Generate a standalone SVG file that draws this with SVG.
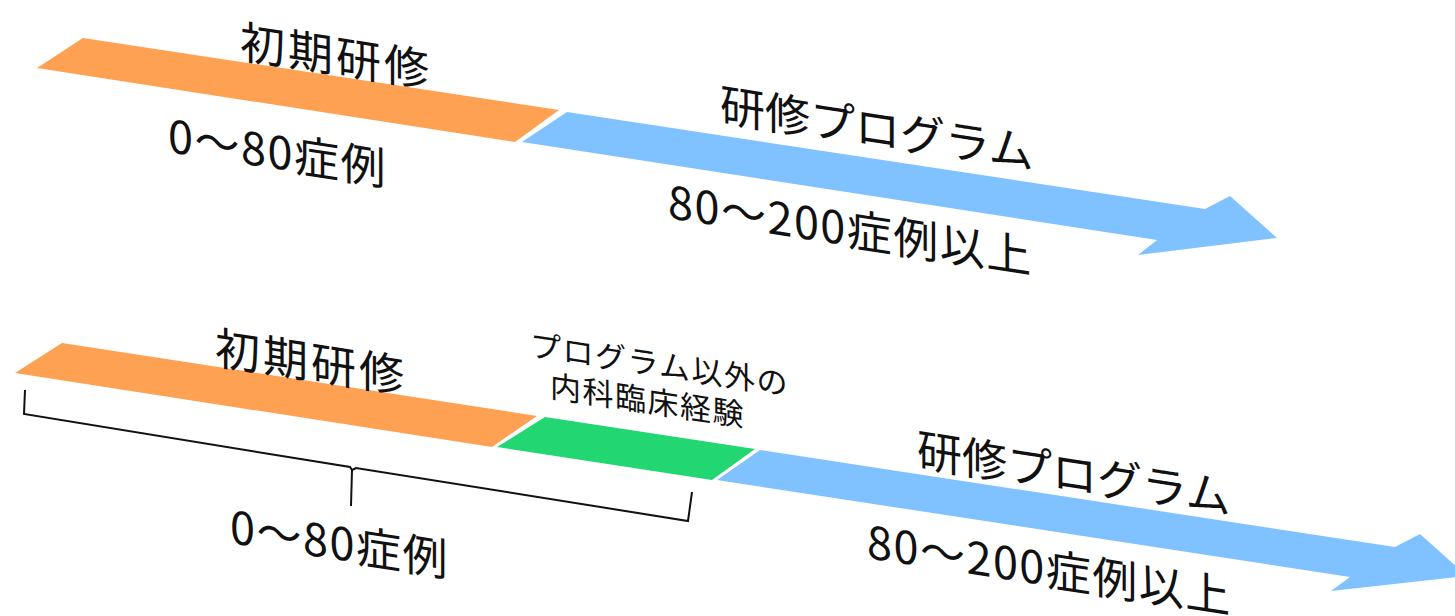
<svg xmlns="http://www.w3.org/2000/svg" width="1455" height="616" viewBox="0 0 1455 616">
<style>
.t{font-family:"Noto Sans CJK JP","Noto Sans",sans-serif;fill:#111;font-size:45px}
.w{letter-spacing:3px}
.n{letter-spacing:1.5px}
.s{font-size:31px;letter-spacing:1.5px}
.or{fill:#FFA152}
.bl{fill:#80C2FF}
.gr{fill:#22D672}
.br{fill:none;stroke:#111;stroke-width:2;stroke-linejoin:miter}
</style>
<rect width="1455" height="616" fill="#fff"/>
<g id="top-initial">
<polygon class="or" points="83,38 559,110 515,142 37,68"/>
<text class="t w" transform="translate(240,58) skewY(8.7)">初期研修</text>
<text class="t n" transform="translate(168,152) skewY(8.7)">0〜80症例</text>
</g>
<g id="top-program">
<polygon class="bl" points="567,112 1205,209 1230,196 1277,238 1138,255 1157,240 522,142"/>
<text class="t" transform="translate(720,121) skewY(8.7)">研修プログラム</text>
<text class="t n" transform="translate(668,218) skewY(8.7)">80〜200症例以上</text>
</g>
<g id="bottom-initial">
<polygon class="or" points="62,343 537,416 492,447 15,373"/>
<text class="t w" transform="translate(215,364) skewY(8.7)">初期研修</text>
</g>
<g id="bottom-other">
<polygon class="gr" points="545,417 755,449 712,480 497,447"/>
<text class="t s" transform="translate(530,356) skewY(8.7)">プログラム以外の</text>
<text class="t s" transform="translate(550,397) skewY(8.7)">内科臨床経験</text>
</g>
<g id="bottom-program">
<polygon class="bl" points="760,450 1395,547 1420,534 1467,576 1331,591 1350,577 717,480"/>
<text class="t" transform="translate(917,466) skewY(8.7)">研修プログラム</text>
<text class="t n" transform="translate(867,558) skewY(8.7)">80〜200症例以上</text>
</g>
<g id="bracket">
<path class="br" d="M25,390 L24,414 L350,467 L352,470 L351,506 M352,470 L356,468 L688,521 L692,492"/>
<text class="t n" transform="translate(230,543) skewY(8.7)">0〜80症例</text>
</g>
</svg>
